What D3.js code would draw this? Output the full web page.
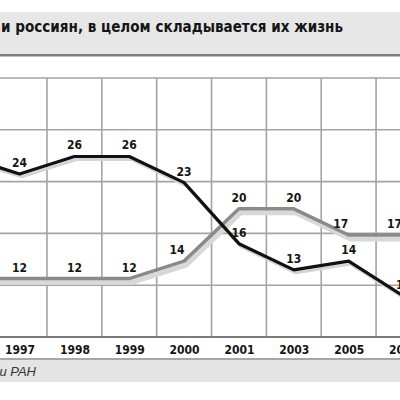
<!DOCTYPE html>
<html><head><meta charset="utf-8">
<script src="https://cdn.jsdelivr.net/npm/d3@7"></script>
<style>
html,body{margin:0;padding:0;background:#fff;overflow:hidden}
svg{display:block}
</style></head>
<body>
<svg id="c" width="400" height="400"></svg>
<script>
const titleText = "и россиян, в целом складывается их жизнь";
const sourceText = "Институт социологии РАН";
const years = ["1996","1997","1998","1999","2000","2001","2003","2005","2007"];
const blackValues = [26,24,26,26,23,16,13,14,10];
const grayValues  = [12,12,12,12,14,20,20,17,17];

// small horizontal nudges of some gray value labels (styling, not data)
const grayLabelNudge = {"2000": -7, "2005": -8, "2007": -9};

const svg = d3.select("#c");
const W = 400;
const FONT = "'DejaVu Sans Condensed', 'DejaVu Sans', sans-serif";

// title band
svg.append("rect").attr("x",0).attr("y",12).attr("width",W).attr("height",42).attr("fill","#e7e7e7");
svg.append("rect").attr("x",0).attr("y",54).attr("width",W).attr("height",2.5).attr("fill","#7d7d7d");
svg.append("text").attr("x",1).attr("y",32)
  .attr("font-family",FONT).attr("font-weight","bold")
  .attr("font-size",15).attr("fill","#151515")
  .attr("textLength",342).attr("lengthAdjust","spacingAndGlyphs")
  .text(titleText);

// scales
const x = d3.scalePoint().domain(years).range([-35.3, 403.5]);
const step = x.step();
const y = d3.scaleLinear().domain([5.3, 35]).range([337, 78]);

// grid
const grid = svg.append("g");
const r = y.range();
d3.range(5).forEach(i => {
  const yy = r[1] + i*(r[0]-r[1])/5;
  grid.append("line").attr("x1",0).attr("x2",W).attr("y1",yy).attr("y2",yy)
    .attr("stroke","#a3a3a3").attr("stroke-width",1.6);
});
years.forEach(c => {
  const xx = x(c) + step/2;
  grid.append("line").attr("x1",xx).attr("x2",xx).attr("y1",r[1]).attr("y2",r[0])
    .attr("stroke","#a3a3a3").attr("stroke-width",1.6);
});
svg.append("line").attr("x1",0).attr("x2",W).attr("y1",r[0]).attr("y2",r[0])
  .attr("stroke","#7a7a7a").attr("stroke-width",2);

const line = d3.line().x((d,i)=>x(years[i])).y(d=>y(d));

// shadows
svg.append("path").datum(grayValues).attr("d",line).attr("fill","none")
  .attr("stroke","#d8d8d8").attr("stroke-width",5).attr("stroke-linejoin","round")
  .attr("transform","translate(2,4)");
svg.append("path").datum(blackValues).attr("d",line).attr("fill","none")
  .attr("stroke","#d4d4d4").attr("stroke-width",3).attr("stroke-linejoin","round")
  .attr("transform","translate(2,3)");

// lines
svg.append("path").datum(grayValues).attr("d",line).attr("fill","none")
  .attr("stroke","#8a8a8a").attr("stroke-width",3.5).attr("stroke-linejoin","round");
svg.append("path").datum(blackValues).attr("d",line).attr("fill","none")
  .attr("stroke","#111").attr("stroke-width",3.2).attr("stroke-linejoin","round");

// value labels
const lab = svg.append("g").attr("font-family",FONT)
  .attr("font-weight","bold").attr("font-size",12).attr("fill","#151515").attr("text-anchor","middle");
blackValues.forEach((v,i) => {
  lab.append("text").attr("x",x(years[i])).attr("y",y(v)-7).text(v);
});
grayValues.forEach((v,i) => {
  lab.append("text").attr("x",x(years[i]) + (grayLabelNudge[years[i]]||0)).attr("y",y(v)-7).text(v);
});

// x axis
const ax = svg.append("g").attr("transform","translate(0,345)")
  .call(d3.axisBottom(x).tickSize(0).tickPadding(0));
ax.select(".domain").remove();
ax.selectAll("text").attr("font-family",FONT)
  .attr("font-weight","bold").attr("font-size",12).attr("fill","#151515");

// bottom band
svg.append("line").attr("x1",0).attr("x2",W).attr("y1",359).attr("y2",359)
  .attr("stroke","#8a8a8a").attr("stroke-width",1.5);
svg.append("rect").attr("x",0).attr("y",360).attr("width",W).attr("height",22).attr("fill","#e4e4e4");
svg.append("text").attr("x",36).attr("y",376).attr("text-anchor","end")
  .attr("font-family","Liberation Sans, Arial, sans-serif").attr("font-style","italic")
  .attr("font-size",13).attr("fill","#333").text(sourceText);
</script>
</body></html>
